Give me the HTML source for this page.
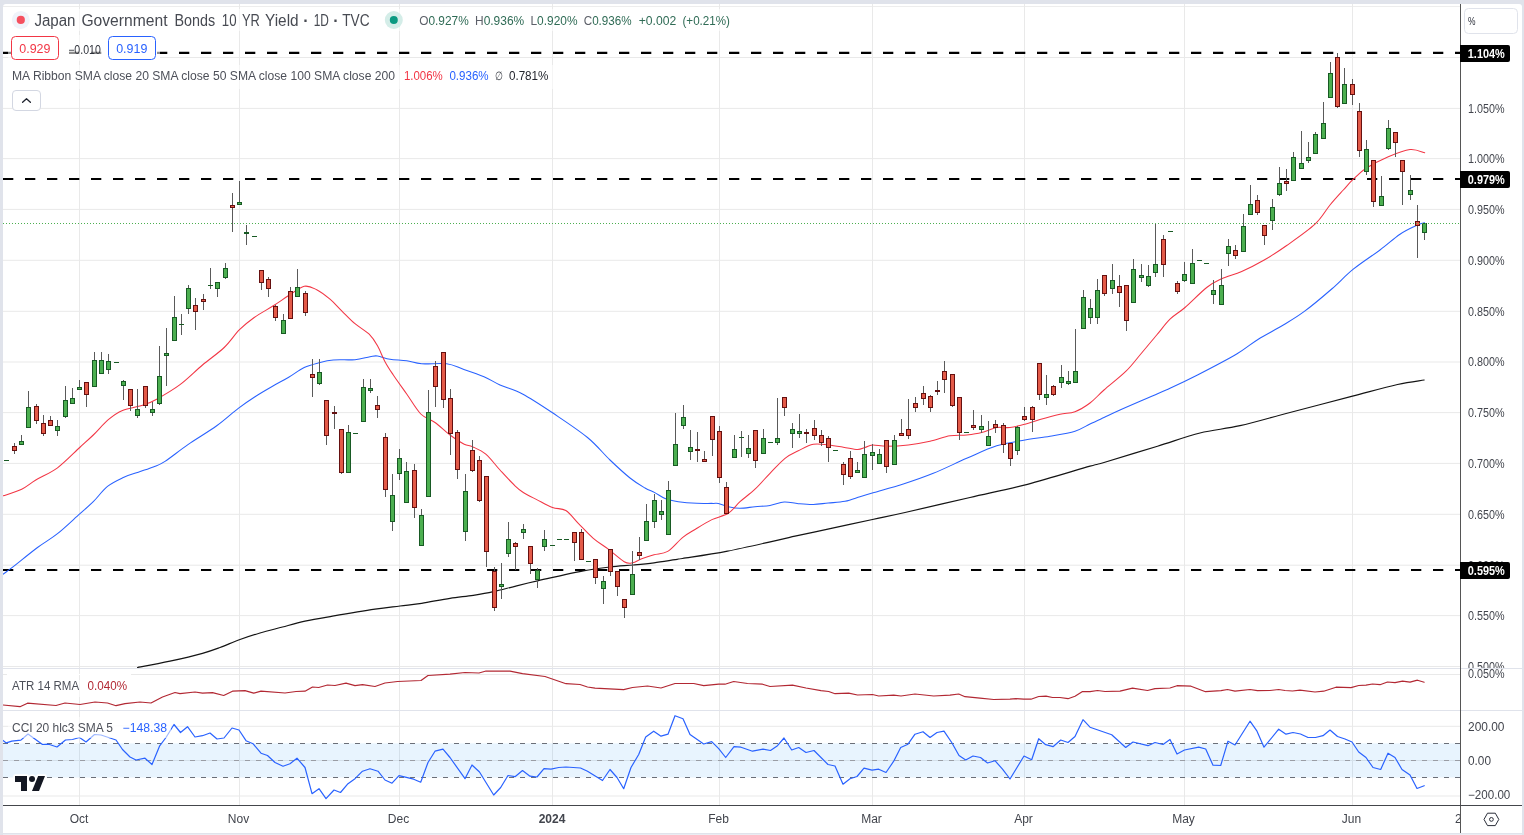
<!DOCTYPE html>
<html lang="en"><head><meta charset="utf-8"><title>Japan Government Bonds 10 YR Yield</title>
<style>
html,body{margin:0;padding:0;background:#e0e3eb;}
body{width:1524px;height:835px;overflow:hidden;font-family:"Liberation Sans", sans-serif;}
svg{display:block;font-family:"Liberation Sans", sans-serif;}
text{white-space:pre;}
</style></head><body>
<svg width="1524" height="835" viewBox="0 0 1524 835">
<rect x="0" y="0" width="1524" height="835" fill="#e0e3eb"/>
<path d="M3,833 V7 a3,3 0 0 1 3,-3 H1519 a3,3 0 0 1 3,3 V833 Z" fill="#ffffff"/>
<defs>
<clipPath id="cpMain"><rect x="3" y="4" width="1457" height="664"/></clipPath>
<clipPath id="cpAxisMain"><rect x="1461" y="4" width="61" height="664"/></clipPath>
<clipPath id="cpAtr"><rect x="3" y="669" width="1457" height="41"/></clipPath>
<clipPath id="cpCci"><rect x="3" y="711" width="1457" height="94"/></clipPath>
<clipPath id="cpT"><rect x="3" y="806" width="1457" height="27"/></clipPath>
</defs>
<rect x="3" y="6" width="1457" height="1" fill="#ededed"/>
<rect x="79.0" y="4" width="1" height="801" fill="#e9e9e9"/>
<rect x="239.0" y="4" width="1" height="801" fill="#e9e9e9"/>
<rect x="399.0" y="4" width="1" height="801" fill="#e9e9e9"/>
<rect x="552.0" y="4" width="1" height="801" fill="#e9e9e9"/>
<rect x="719.0" y="4" width="1" height="801" fill="#e9e9e9"/>
<rect x="872.0" y="4" width="1" height="801" fill="#e9e9e9"/>
<rect x="1024.0" y="4" width="1" height="801" fill="#e9e9e9"/>
<rect x="1184.0" y="4" width="1" height="801" fill="#e9e9e9"/>
<rect x="1352.0" y="4" width="1" height="801" fill="#e9e9e9"/>
<rect x="3" y="57.0" width="1457" height="1" fill="#e9e9e9"/>
<rect x="3" y="107.9" width="1457" height="1" fill="#e9e9e9"/>
<rect x="3" y="158.1" width="1457" height="1" fill="#e9e9e9"/>
<rect x="3" y="208.9" width="1457" height="1" fill="#e9e9e9"/>
<rect x="3" y="259.8" width="1457" height="1" fill="#e9e9e9"/>
<rect x="3" y="310.8" width="1457" height="1" fill="#e9e9e9"/>
<rect x="3" y="361.5" width="1457" height="1" fill="#e9e9e9"/>
<rect x="3" y="412.1" width="1457" height="1" fill="#e9e9e9"/>
<rect x="3" y="462.9" width="1457" height="1" fill="#e9e9e9"/>
<rect x="3" y="513.8" width="1457" height="1" fill="#e9e9e9"/>
<rect x="3" y="564.7" width="1457" height="1" fill="#e9e9e9"/>
<rect x="3" y="615.1" width="1457" height="1" fill="#e9e9e9"/>
<rect x="3" y="666.0" width="1457" height="1" fill="#e9e9e9"/>
<rect x="3" y="674" width="1457" height="1" fill="#e9e9e9"/>
<rect x="3" y="725.8" width="1457" height="1" fill="#e9e9e9"/>
<rect x="3" y="760.0" width="1457" height="1" fill="#e9e9e9"/>
<rect x="3" y="795.5" width="1457" height="1" fill="#e9e9e9"/>
<rect x="7" y="674" width="124" height="1" fill="#fff"/>
<rect x="12" y="725.8" width="159" height="1" fill="#fff"/>
<rect x="11" y="57" width="149" height="1" fill="#fff"/>
<rect x="3" y="668" width="1519" height="1" fill="#e0e3eb"/>
<rect x="3" y="710" width="1519" height="1" fill="#e0e3eb"/>
<g clip-path="url(#cpCci)">
<rect x="3" y="743.4" width="1457" height="34.1" fill="#2196f3" fill-opacity="0.1"/>
<line x1="3" y1="743.5" x2="1460" y2="743.5" stroke="#6b6f78" stroke-width="1" stroke-dasharray="5 6"/>
<line x1="3" y1="760.5" x2="1460" y2="760.5" stroke="#9a9da4" stroke-width="1" stroke-dasharray="5 6"/>
<line x1="3" y1="777.5" x2="1460" y2="777.5" stroke="#6b6f78" stroke-width="1" stroke-dasharray="5 6"/>
<path d="M3.0,740.5 L6.3,742.9 L11.8,741.1 L20.9,740.1 L28.0,734.0 L42.5,744.5 L48.7,744.2 L57.0,747.0 L65.5,740.0 L72.5,739.5 L79.5,737.5 L86.0,742.0 L94.5,734.5 L101.0,735.0 L116.0,740.0 L122.5,749.5 L130.0,757.0 L136.0,760.0 L145.0,758.2 L152.0,764.5 L159.5,746.2 L166.0,737.5 L174.0,724.5 L180.5,732.5 L187.5,726.7 L195.0,737.0 L202.5,735.7 L210.0,733.0 L217.0,739.0 L224.0,738.0 L232.0,728.0 L239.0,730.0 L246.0,740.7 L253.0,743.7 L261.0,753.2 L267.5,755.5 L275.0,762.5 L283.0,766.2 L290.0,763.7 L297.0,758.2 L305.0,767.5 L312.0,793.7 L319.0,788.7 L326.0,798.7 L334.0,790.0 L340.5,792.5 L348.0,783.7 L355.0,778.7 L362.5,771.2 L370.0,768.7 L378.0,771.2 L385.0,780.0 L392.0,783.2 L399.0,775.7 L413.7,779.2 L420.7,782.2 L428.0,762.5 L435.0,751.2 L443.0,749.2 L450.0,757.5 L465.0,778.7 L472.0,765.0 L479.5,772.0 L493.7,795.0 L500.7,787.5 L508.0,775.5 L515.0,776.7 L522.5,770.5 L530.0,776.2 L537.0,777.0 L544.0,768.7 L551.0,769.2 L558.7,767.5 L566.0,767.0 L580.5,768.0 L587.5,771.2 L602.5,780.5 L610.0,769.5 L617.0,777.5 L623.7,788.7 L631.0,767.5 L638.7,754.5 L645.7,737.0 L653.7,731.2 L661.0,736.2 L668.0,734.2 L675.0,715.7 L683.0,718.7 L690.0,734.5 L703.7,744.0 L711.7,741.7 L718.7,748.7 L725.7,757.5 L734.0,746.7 L741.0,747.2 L752.5,751.2 L763.0,749.2 L770.5,750.5 L777.5,745.7 L784.0,738.0 L791.7,750.0 L798.7,747.5 L806.0,752.5 L814.0,750.5 L828.0,764.5 L835.0,766.0 L843.0,784.2 L850.0,778.7 L857.0,776.5 L864.0,768.2 L872.0,770.2 L878.7,769.2 L886.0,772.5 L893.7,761.2 L900.7,747.5 L908.0,744.2 L915.0,734.2 L923.0,731.7 L930.0,737.5 L937.0,732.5 L944.0,731.2 L951.7,742.5 L959.0,755.5 L965.7,760.0 L973.0,756.0 L980.5,757.5 L987.5,763.0 L995.0,760.7 L1002.5,769.2 L1010.0,779.0 L1024.0,756.0 L1031.7,759.7 L1038.7,738.7 L1045.7,744.7 L1053.0,746.7 L1060.7,740.0 L1068.0,742.5 L1075.0,736.5 L1083.0,719.7 L1090.0,727.2 L1111.7,734.7 L1125.7,747.5 L1133.0,742.0 L1148.0,745.7 L1155.0,742.5 L1163.0,744.5 L1170.0,739.5 L1177.0,754.0 L1184.5,750.0 L1198.7,747.2 L1205.7,749.0 L1213.0,765.2 L1220.7,765.5 L1228.0,741.2 L1235.0,745.0 L1250.0,721.2 L1257.0,731.2 L1264.0,747.2 L1278.7,729.2 L1286.0,734.2 L1293.0,732.5 L1300.5,734.0 L1308.0,737.5 L1315.5,737.5 L1323.0,735.7 L1330.0,730.0 L1337.5,736.5 L1345.0,739.0 L1352.0,742.0 L1358.7,752.0 L1366.0,757.5 L1373.0,767.5 L1380.7,769.5 L1388.0,753.2 L1395.0,757.5 L1402.0,769.5 L1410.0,775.0 L1417.0,788.5 L1424.2,785.7" fill="none" stroke="#2962ff" stroke-width="1.2" stroke-linejoin="round" stroke-linecap="round" />
</g>
<g clip-path="url(#cpAtr)">
<path d="M3.0,705.0 L20.0,706.7 L27.5,703.2 L56.0,705.5 L65.0,703.0 L80.0,704.5 L95.0,702.0 L107.5,703.0 L116.0,705.7 L125.0,703.7 L140.0,702.0 L151.0,703.0 L162.5,697.0 L175.0,692.5 L180.0,693.7 L195.0,692.0 L202.5,693.2 L212.5,692.7 L223.7,695.5 L232.5,691.2 L245.0,690.7 L253.7,693.2 L261.0,691.2 L285.0,693.0 L296.0,691.5 L305.0,691.2 L312.5,687.0 L318.7,687.5 L327.5,685.0 L335.0,685.5 L346.0,683.2 L355.0,685.7 L362.5,684.7 L375.0,686.5 L385.0,683.0 L397.5,681.5 L421.0,680.5 L428.0,675.5 L450.0,674.2 L465.0,672.5 L479.0,673.0 L486.0,671.0 L500.0,671.2 L510.0,671.2 L522.5,673.7 L545.0,676.5 L566.0,683.7 L580.0,684.5 L587.5,687.0 L595.0,688.2 L623.7,689.7 L632.5,687.5 L647.5,686.0 L661.0,688.0 L675.0,683.5 L693.7,683.5 L703.7,685.7 L718.7,684.2 L725.0,684.2 L733.7,681.5 L747.5,683.5 L762.5,684.2 L770.0,686.5 L792.5,685.2 L806.0,688.0 L821.0,690.7 L828.7,691.5 L835.0,693.7 L848.7,693.2 L857.5,695.0 L872.5,694.5 L878.7,696.0 L893.7,695.2 L901.0,696.0 L915.0,694.0 L933.7,696.0 L950.0,695.2 L958.7,694.0 L965.0,696.7 L980.0,698.2 L993.7,699.5 L1010.0,699.2 L1016.0,698.7 L1023.7,699.2 L1031.0,699.2 L1038.7,696.5 L1046.0,696.2 L1052.5,697.5 L1060.0,697.5 L1068.0,698.7 L1075.0,696.2 L1082.5,691.5 L1090.0,691.7 L1097.5,690.5 L1105.0,691.5 L1120.0,691.2 L1132.5,688.2 L1147.5,690.5 L1155.0,688.7 L1170.0,688.0 L1177.0,685.7 L1191.0,686.2 L1205.5,691.7 L1221.0,690.7 L1227.5,689.5 L1235.0,691.2 L1250.0,689.5 L1257.5,690.7 L1270.0,690.5 L1278.7,689.5 L1285.0,690.5 L1292.5,691.0 L1300.0,690.2 L1315.0,692.0 L1323.7,691.2 L1336.0,687.2 L1351.0,687.7 L1358.7,685.5 L1366.0,685.2 L1372.5,684.0 L1380.0,684.7 L1387.5,682.0 L1395.0,682.7 L1402.5,681.2 L1410.0,682.2 L1417.5,680.2 L1424.2,682.2" fill="none" stroke="#b22833" stroke-width="1.2" stroke-linejoin="round" stroke-linecap="round" />
</g>
<g clip-path="url(#cpMain)">
<line x1="3" y1="52.9" x2="1460" y2="52.9" stroke="#000" stroke-width="2.15" stroke-dasharray="10.3 11.7"/>
<line x1="3" y1="179" x2="1460" y2="179" stroke="#000" stroke-width="2.15" stroke-dasharray="10.3 11.7"/>
<line x1="3" y1="570" x2="1460" y2="570" stroke="#000" stroke-width="2.15" stroke-dasharray="10.3 11.7"/>
<path d="M137.5,667.5 C142.9,666.5 159.2,663.6 170.0,661.2 C180.8,658.8 194.2,655.6 202.5,653.3 C210.8,651.0 213.8,649.8 220.0,647.5 C226.2,645.2 233.3,641.9 240.0,639.5 C246.7,637.1 252.9,635.1 260.0,633.0 C267.1,630.9 275.0,629.0 282.5,627.0 C290.0,625.0 296.7,623.0 305.0,621.2 C313.3,619.4 320.8,618.2 332.5,616.2 C344.2,614.2 363.8,610.9 375.0,609.2 C386.2,607.5 392.2,607.0 400.0,606.0 C407.8,605.0 413.4,604.6 421.7,603.3 C430.0,602.0 441.4,599.6 450.0,598.3 C458.6,597.0 466.1,596.4 473.3,595.3 C480.5,594.2 486.1,593.3 493.3,591.7 C500.5,590.1 509.3,587.6 516.7,585.8 C524.1,584.0 530.3,582.5 537.5,580.8 C544.7,579.1 552.4,577.5 560.0,575.8 C567.6,574.1 575.0,572.3 583.3,570.8 C591.6,569.3 601.7,568.0 610.0,567.0 C618.3,566.0 626.0,565.7 633.3,565.0 C640.6,564.3 647.0,563.7 654.0,562.8 C661.0,561.9 670.5,560.3 675.3,559.6 C680.0,558.9 673.8,559.9 682.5,558.5 C691.2,557.1 708.8,554.9 727.5,551.2 C746.2,547.5 778.5,539.9 795.0,536.2 C811.5,532.6 813.8,532.1 826.7,529.3 C839.6,526.5 859.5,522.3 872.5,519.5 C885.5,516.7 888.8,516.2 905.0,512.5 C921.2,508.8 949.6,502.2 970.0,497.5 C990.4,492.8 1007.5,489.5 1027.5,484.3 C1047.5,479.1 1077.2,469.8 1090.0,466.2 C1102.8,462.6 1092.8,465.8 1104.0,462.5 C1115.2,459.2 1141.5,451.1 1157.5,446.2 C1173.5,441.3 1186.2,436.4 1200.0,433.0 C1213.8,429.6 1225.0,429.1 1240.0,425.7 C1255.0,422.3 1271.2,417.4 1290.0,412.5 C1308.8,407.6 1334.6,400.9 1352.5,396.2 C1370.4,391.5 1385.5,387.2 1397.5,384.5 C1409.5,381.8 1419.8,380.8 1424.2,380.0" fill="none" stroke="#141414" stroke-width="1.2" stroke-linejoin="round" stroke-linecap="round"/>
<path d="M3.0,574.2 C4.2,573.4 4.2,573.7 10.0,569.2 C15.8,564.8 29.6,553.4 37.5,547.5 C45.4,541.6 50.4,539.3 57.5,533.7 C64.6,528.1 74.0,519.0 80.0,513.7 C86.0,508.4 88.7,506.2 93.3,501.7 C97.9,497.1 102.5,490.4 107.5,486.4 C112.5,482.4 118.2,479.9 123.3,477.5 C128.4,475.1 133.3,473.9 138.3,472.2 C143.3,470.4 148.9,468.8 153.3,467.0 C157.8,465.2 159.2,465.2 165.0,461.4 C170.8,457.6 179.7,450.3 188.3,444.4 C196.9,438.5 208.4,431.8 216.7,425.8 C225.0,419.8 231.9,413.2 238.3,408.3 C244.7,403.4 249.4,400.3 255.0,396.7 C260.6,393.1 266.1,389.9 271.7,386.7 C277.2,383.5 282.9,380.7 288.3,377.5 C293.7,374.3 298.9,370.0 304.2,367.5 C309.5,365.0 315.1,363.8 320.0,362.5 C324.9,361.2 327.5,360.5 333.3,360.0 C339.1,359.5 348.9,360.2 355.0,359.7 C361.1,359.1 366.2,357.3 370.0,356.7 C373.8,356.1 374.2,355.6 377.5,356.0 C380.8,356.4 385.1,358.4 390.0,359.2 C394.9,360.0 401.4,360.0 406.7,360.8 C412.0,361.6 415.0,363.3 421.7,363.8 C428.4,364.3 439.8,362.9 446.7,363.8 C453.6,364.7 457.1,367.1 463.3,369.2 C469.5,371.3 477.9,374.1 484.0,376.7 C490.1,379.3 493.6,382.1 500.0,385.0 C506.4,387.9 513.8,389.4 522.5,394.0 C531.2,398.6 541.7,405.6 552.5,412.8 C563.3,420.1 577.9,429.6 587.5,437.5 C597.1,445.4 602.9,453.2 610.0,460.0 C617.1,466.8 624.2,473.3 630.0,478.0 C635.8,482.7 640.9,485.6 645.0,488.0 C649.1,490.4 651.3,490.8 654.8,492.6 C658.2,494.4 661.8,497.3 665.7,498.8 C669.6,500.3 673.1,500.9 678.3,501.7 C683.5,502.4 690.9,503.0 696.7,503.3 C702.5,503.6 709.7,503.3 713.3,503.4 C716.9,503.4 715.9,503.1 718.4,503.6 C720.9,504.2 724.7,505.9 728.3,506.7 C731.9,507.5 735.5,508.3 740.0,508.3 C744.5,508.3 750.0,507.2 755.0,506.7 C760.0,506.2 765.1,506.3 770.0,505.5 C774.9,504.7 779.5,502.3 784.2,502.0 C788.9,501.7 793.4,503.3 798.3,503.7 C803.1,504.1 808.3,504.6 813.3,504.5 C818.3,504.4 823.0,503.5 828.3,503.0 C833.6,502.5 839.7,502.4 845.0,501.3 C850.3,500.2 855.2,498.2 860.0,496.7 C864.8,495.2 866.8,494.6 874.0,492.5 C881.2,490.4 893.4,487.2 903.3,484.0 C913.2,480.8 922.7,477.6 933.3,473.3 C943.9,469.0 956.1,462.9 966.7,458.3 C977.3,453.7 987.0,448.9 996.7,445.8 C1006.4,442.8 1016.1,441.6 1025.0,440.0 C1033.9,438.4 1041.7,437.8 1050.0,436.3 C1058.3,434.8 1068.3,433.2 1075.0,431.2 C1081.7,429.1 1085.2,426.3 1090.0,424.0 C1094.8,421.7 1099.0,419.8 1104.0,417.5 C1109.0,415.2 1109.0,414.9 1120.0,410.0 C1131.0,405.1 1157.1,394.0 1170.0,388.2 C1182.9,382.4 1186.4,380.7 1197.5,375.0 C1208.6,369.3 1226.6,360.0 1236.7,354.0 C1246.8,348.0 1250.5,344.0 1258.3,339.2 C1266.1,334.4 1275.7,329.6 1283.3,325.0 C1290.9,320.4 1295.9,317.7 1304.0,311.7 C1312.1,305.7 1323.5,296.1 1331.7,289.0 C1339.9,281.9 1345.2,275.7 1353.3,269.2 C1361.3,262.7 1372.2,255.8 1380.0,250.0 C1387.8,244.2 1393.8,238.4 1400.0,234.2 C1406.2,230.0 1413.4,226.9 1417.5,225.0 C1421.6,223.1 1423.3,223.1 1424.5,222.7" fill="none" stroke="#2962ff" stroke-width="1.05" stroke-linejoin="round" stroke-linecap="round"/>
<path d="M3.3,495.8 C6.4,494.7 16.3,491.8 21.7,489.2 C27.1,486.6 29.8,483.6 35.8,480.0 C41.8,476.4 50.2,473.2 57.5,467.8 C64.8,462.4 73.7,453.0 79.7,447.5 C85.7,442.0 88.5,439.6 93.3,435.0 C98.1,430.4 103.4,423.8 108.3,419.7 C113.2,415.6 116.7,412.9 122.5,410.5 C128.3,408.1 137.6,406.9 143.3,405.0 C149.0,403.1 150.6,402.6 156.7,399.2 C162.8,395.8 172.4,390.4 180.0,384.7 C187.6,379.0 195.1,371.2 202.5,365.0 C209.9,358.8 218.0,353.4 224.2,347.5 C230.4,341.6 234.5,334.7 239.5,329.7 C244.5,324.7 248.6,321.5 254.2,317.5 C259.8,313.5 267.6,309.4 273.3,305.8 C279.0,302.2 283.2,299.1 288.3,295.8 C293.4,292.6 299.5,287.3 304.2,286.3 C308.9,285.3 312.4,287.6 316.7,289.7 C321.0,291.8 325.8,295.7 330.0,299.2 C334.2,302.7 337.5,306.7 341.7,310.8 C345.9,314.9 350.4,319.8 355.0,323.7 C359.6,327.6 365.4,330.5 369.2,334.2 C372.9,337.9 374.9,341.2 377.5,345.8 C380.1,350.4 382.4,356.8 385.0,361.7 C387.6,366.6 389.7,369.6 393.3,375.0 C396.9,380.4 402.1,387.5 406.7,394.0 C411.3,400.5 416.1,409.2 420.8,414.0 C425.5,418.8 430.1,419.0 435.0,422.5 C439.9,426.0 445.1,431.4 450.0,435.0 C454.9,438.6 460.4,442.2 464.2,444.2 C467.9,446.1 468.9,445.0 472.5,446.7 C476.1,448.4 481.2,450.3 485.8,454.2 C490.4,458.1 495.1,464.7 500.0,470.0 C504.9,475.3 511.1,482.1 515.0,485.8 C518.9,489.6 519.7,490.2 523.3,492.5 C526.9,494.8 531.8,497.1 536.7,499.6 C541.6,502.1 547.6,505.7 552.5,507.5 C557.4,509.3 561.5,507.9 565.8,510.5 C570.1,513.1 573.7,518.7 578.3,523.3 C582.9,527.9 588.3,534.0 593.3,538.3 C598.3,542.6 603.1,545.3 608.3,549.2 C613.4,553.1 620.2,559.4 624.2,561.7 C628.2,564.0 629.6,563.3 632.5,562.8 C635.4,562.3 638.1,560.1 641.7,558.7 C645.3,557.4 649.7,555.9 654.0,554.7 C658.3,553.5 662.9,554.3 667.7,551.4 C672.5,548.5 678.1,541.0 682.8,537.3 C687.5,533.6 690.9,532.0 695.8,529.0 C700.6,526.0 706.5,522.2 711.9,519.6 C717.3,517.0 723.6,516.3 728.3,513.3 C733.0,510.3 735.5,505.7 740.0,501.7 C744.5,497.7 750.0,493.9 755.0,489.2 C760.0,484.5 765.0,478.4 770.0,473.3 C775.0,468.2 780.3,462.1 785.0,458.3 C789.7,454.6 793.6,453.1 798.3,450.8 C803.0,448.5 808.3,445.3 813.3,444.3 C818.3,443.3 823.3,444.5 828.3,445.0 C833.3,445.5 838.4,446.4 843.3,447.2 C848.2,447.9 853.9,449.4 857.5,449.5 C861.1,449.6 862.5,448.2 865.0,447.5 C867.5,446.8 868.9,445.2 872.5,445.0 C876.1,444.8 880.7,446.3 886.7,446.3 C892.7,446.3 901.1,445.9 908.3,445.0 C915.5,444.1 923.0,442.7 930.0,441.2 C937.0,439.7 943.9,436.8 950.0,435.8 C956.1,434.8 961.4,435.6 966.7,435.0 C972.0,434.4 976.7,433.8 981.7,432.5 C986.7,431.2 992.0,428.3 996.7,427.5 C1001.4,426.7 1005.3,428.1 1010.0,427.5 C1014.7,426.9 1020.0,425.5 1025.0,424.2 C1030.0,422.9 1034.2,421.2 1040.0,419.5 C1045.8,417.8 1054.2,415.5 1060.0,414.2 C1065.8,412.9 1070.0,413.6 1075.0,411.7 C1080.0,409.8 1085.2,406.6 1090.0,403.0 C1094.8,399.4 1098.0,395.3 1104.0,390.0 C1110.0,384.7 1119.9,377.2 1126.0,371.2 C1132.1,365.2 1135.7,360.0 1140.8,354.0 C1145.9,348.0 1151.8,340.8 1156.7,335.0 C1161.6,329.2 1165.3,323.8 1170.0,319.2 C1174.7,314.6 1178.9,312.8 1185.0,307.5 C1191.1,302.2 1200.6,292.3 1206.7,287.5 C1212.8,282.7 1215.9,281.5 1221.7,278.8 C1227.5,276.1 1234.6,274.6 1241.7,271.5 C1248.8,268.4 1256.7,264.3 1264.2,260.0 C1271.7,255.7 1278.2,251.5 1286.7,245.5 C1295.2,239.5 1307.8,230.9 1315.0,224.2 C1322.2,217.4 1325.3,210.7 1330.0,205.0 C1334.7,199.3 1339.4,194.3 1343.3,190.0 C1347.2,185.7 1349.5,182.8 1353.3,179.2 C1357.1,175.6 1360.2,172.1 1366.0,168.3 C1371.8,164.6 1381.0,159.8 1388.3,156.7 C1395.6,153.6 1403.9,150.2 1410.0,149.5 C1416.1,148.8 1422.2,152.2 1424.7,152.8" fill="none" stroke="#f23645" stroke-width="1.05" stroke-linejoin="round" stroke-linecap="round"/>
<rect x="4.0" y="460" width="5" height="1.0" fill="#185a24"/>
<rect x="14.0" y="443" width="1" height="11" fill="#5a5a5a"/>
<rect x="12.0" y="446" width="5" height="5" fill="#651010"/>
<rect x="13.0" y="447" width="3" height="3" fill="#e35a48"/>
<rect x="21.0" y="435" width="1" height="10" fill="#5a5a5a"/>
<rect x="19.0" y="441" width="5" height="4" fill="#185a24"/>
<rect x="20.0" y="442" width="3" height="2" fill="#4caf50"/>
<rect x="28.0" y="391" width="1" height="37" fill="#5a5a5a"/>
<rect x="26.0" y="407" width="5" height="21" fill="#185a24"/>
<rect x="27.0" y="408" width="3" height="19" fill="#4caf50"/>
<rect x="36.0" y="404" width="1" height="20" fill="#5a5a5a"/>
<rect x="34.0" y="406" width="5" height="15" fill="#651010"/>
<rect x="35.0" y="407" width="3" height="13" fill="#e35a48"/>
<rect x="43.0" y="415" width="1" height="21" fill="#5a5a5a"/>
<rect x="41.0" y="423" width="5" height="11" fill="#651010"/>
<rect x="42.0" y="424" width="3" height="9" fill="#e35a48"/>
<rect x="50.0" y="416" width="1" height="10" fill="#5a5a5a"/>
<rect x="48.0" y="420" width="5" height="6" fill="#651010"/>
<rect x="49.0" y="421" width="3" height="4" fill="#e35a48"/>
<rect x="57.0" y="420" width="1" height="16" fill="#5a5a5a"/>
<rect x="55.0" y="426" width="5" height="5" fill="#185a24"/>
<rect x="56.0" y="427" width="3" height="3" fill="#4caf50"/>
<rect x="65.0" y="386" width="1" height="32" fill="#5a5a5a"/>
<rect x="63.0" y="400" width="5" height="17" fill="#185a24"/>
<rect x="64.0" y="401" width="3" height="15" fill="#4caf50"/>
<rect x="72.0" y="388" width="1" height="16" fill="#5a5a5a"/>
<rect x="70.0" y="398" width="5" height="6" fill="#185a24"/>
<rect x="71.0" y="399" width="3" height="4" fill="#4caf50"/>
<rect x="79.0" y="380" width="1" height="10" fill="#5a5a5a"/>
<rect x="77.0" y="387" width="5" height="3" fill="#185a24"/>
<rect x="78.0" y="388" width="3" height="1" fill="#4caf50"/>
<rect x="86.0" y="382" width="1" height="25" fill="#5a5a5a"/>
<rect x="84.0" y="382" width="5" height="13" fill="#651010"/>
<rect x="85.0" y="383" width="3" height="11" fill="#e35a48"/>
<rect x="94.0" y="352" width="1" height="35" fill="#5a5a5a"/>
<rect x="92.0" y="360" width="5" height="27" fill="#185a24"/>
<rect x="93.0" y="361" width="3" height="25" fill="#4caf50"/>
<rect x="101.0" y="352" width="1" height="22" fill="#5a5a5a"/>
<rect x="99.0" y="360" width="5" height="14" fill="#185a24"/>
<rect x="100.0" y="361" width="3" height="12" fill="#4caf50"/>
<rect x="108.0" y="354" width="1" height="20" fill="#5a5a5a"/>
<rect x="106.0" y="361" width="5" height="9" fill="#185a24"/>
<rect x="107.0" y="362" width="3" height="7" fill="#4caf50"/>
<rect x="114.0" y="362" width="5" height="1.0" fill="#185a24"/>
<rect x="123.0" y="380" width="1" height="20" fill="#5a5a5a"/>
<rect x="121.0" y="381" width="5" height="5" fill="#185a24"/>
<rect x="122.0" y="382" width="3" height="3" fill="#4caf50"/>
<rect x="130.0" y="389" width="1" height="22" fill="#5a5a5a"/>
<rect x="128.0" y="389" width="5" height="17" fill="#651010"/>
<rect x="129.0" y="390" width="3" height="15" fill="#e35a48"/>
<rect x="137.0" y="389" width="1" height="29" fill="#5a5a5a"/>
<rect x="135.0" y="409" width="5" height="7" fill="#185a24"/>
<rect x="136.0" y="410" width="3" height="5" fill="#4caf50"/>
<rect x="145.0" y="386" width="1" height="22" fill="#5a5a5a"/>
<rect x="143.0" y="386" width="5" height="20" fill="#651010"/>
<rect x="144.0" y="387" width="3" height="18" fill="#e35a48"/>
<rect x="152.0" y="402" width="1" height="14" fill="#5a5a5a"/>
<rect x="150.0" y="409" width="5" height="4" fill="#185a24"/>
<rect x="151.0" y="410" width="3" height="2" fill="#4caf50"/>
<rect x="159.0" y="346" width="1" height="59" fill="#5a5a5a"/>
<rect x="157.0" y="376" width="5" height="28" fill="#185a24"/>
<rect x="158.0" y="377" width="3" height="26" fill="#4caf50"/>
<rect x="166.0" y="328" width="1" height="58" fill="#5a5a5a"/>
<rect x="164.0" y="353" width="5" height="3" fill="#185a24"/>
<rect x="165.0" y="354" width="3" height="1" fill="#4caf50"/>
<rect x="174.0" y="296" width="1" height="45" fill="#5a5a5a"/>
<rect x="172.0" y="317" width="5" height="24" fill="#185a24"/>
<rect x="173.0" y="318" width="3" height="22" fill="#4caf50"/>
<rect x="181.0" y="314" width="1" height="21" fill="#5a5a5a"/>
<rect x="179.0" y="324" width="5" height="1.0" fill="#185a24"/>
<rect x="188.0" y="285" width="1" height="29" fill="#5a5a5a"/>
<rect x="186.0" y="288" width="5" height="21" fill="#185a24"/>
<rect x="187.0" y="289" width="3" height="19" fill="#4caf50"/>
<rect x="195.0" y="298" width="1" height="32" fill="#5a5a5a"/>
<rect x="193.0" y="305" width="5" height="7" fill="#651010"/>
<rect x="194.0" y="306" width="3" height="5" fill="#e35a48"/>
<rect x="203.0" y="294" width="1" height="16" fill="#5a5a5a"/>
<rect x="201.0" y="299" width="5" height="3" fill="#651010"/>
<rect x="202.0" y="300" width="3" height="1" fill="#e35a48"/>
<rect x="210.0" y="268" width="1" height="21" fill="#5a5a5a"/>
<rect x="208.0" y="285" width="5" height="1.0" fill="#185a24"/>
<rect x="217.0" y="282" width="1" height="15" fill="#5a5a5a"/>
<rect x="215.0" y="282" width="5" height="7" fill="#185a24"/>
<rect x="216.0" y="283" width="3" height="5" fill="#4caf50"/>
<rect x="225.0" y="263" width="1" height="16" fill="#5a5a5a"/>
<rect x="223.0" y="268" width="5" height="10" fill="#185a24"/>
<rect x="224.0" y="269" width="3" height="8" fill="#4caf50"/>
<rect x="232.0" y="193" width="1" height="39" fill="#5a5a5a"/>
<rect x="230.0" y="205" width="5" height="3" fill="#651010"/>
<rect x="231.0" y="206" width="3" height="1" fill="#e35a48"/>
<rect x="239.0" y="181" width="1" height="24" fill="#5a5a5a"/>
<rect x="237.0" y="202" width="5" height="3" fill="#185a24"/>
<rect x="238.0" y="203" width="3" height="1" fill="#4caf50"/>
<rect x="246.0" y="225" width="1" height="20" fill="#5a5a5a"/>
<rect x="244.0" y="232" width="5" height="2.0" fill="#185a24"/>
<rect x="252.0" y="236" width="5" height="1.0" fill="#185a24"/>
<rect x="261.0" y="270" width="1" height="20" fill="#5a5a5a"/>
<rect x="259.0" y="270" width="5" height="13" fill="#651010"/>
<rect x="260.0" y="271" width="3" height="11" fill="#e35a48"/>
<rect x="268.0" y="277" width="1" height="20" fill="#5a5a5a"/>
<rect x="266.0" y="279" width="5" height="10" fill="#651010"/>
<rect x="267.0" y="280" width="3" height="8" fill="#e35a48"/>
<rect x="275.0" y="305" width="1" height="16" fill="#5a5a5a"/>
<rect x="273.0" y="306" width="5" height="12" fill="#651010"/>
<rect x="274.0" y="307" width="3" height="10" fill="#e35a48"/>
<rect x="283.0" y="314" width="1" height="20" fill="#5a5a5a"/>
<rect x="281.0" y="320" width="5" height="14" fill="#185a24"/>
<rect x="282.0" y="321" width="3" height="12" fill="#4caf50"/>
<rect x="290.0" y="287" width="1" height="32" fill="#5a5a5a"/>
<rect x="288.0" y="291" width="5" height="28" fill="#651010"/>
<rect x="289.0" y="292" width="3" height="26" fill="#e35a48"/>
<rect x="297.0" y="269" width="1" height="28" fill="#5a5a5a"/>
<rect x="295.0" y="287" width="5" height="10" fill="#185a24"/>
<rect x="296.0" y="288" width="3" height="8" fill="#4caf50"/>
<rect x="305.0" y="291" width="1" height="25" fill="#5a5a5a"/>
<rect x="303.0" y="293" width="5" height="20" fill="#651010"/>
<rect x="304.0" y="294" width="3" height="18" fill="#e35a48"/>
<rect x="312.0" y="359" width="1" height="38" fill="#5a5a5a"/>
<rect x="310.0" y="374" width="5" height="4" fill="#651010"/>
<rect x="311.0" y="375" width="3" height="2" fill="#e35a48"/>
<rect x="319.0" y="359" width="1" height="26" fill="#5a5a5a"/>
<rect x="317.0" y="372" width="5" height="12" fill="#185a24"/>
<rect x="318.0" y="373" width="3" height="10" fill="#4caf50"/>
<rect x="326.0" y="400" width="1" height="45" fill="#5a5a5a"/>
<rect x="324.0" y="400" width="5" height="36" fill="#651010"/>
<rect x="325.0" y="401" width="3" height="34" fill="#e35a48"/>
<rect x="334.0" y="406" width="1" height="23" fill="#5a5a5a"/>
<rect x="332.0" y="412" width="5" height="2.0" fill="#651010"/>
<rect x="341.0" y="429" width="1" height="45" fill="#5a5a5a"/>
<rect x="339.0" y="429" width="5" height="44" fill="#651010"/>
<rect x="340.0" y="430" width="3" height="42" fill="#e35a48"/>
<rect x="348.0" y="425" width="1" height="48" fill="#5a5a5a"/>
<rect x="346.0" y="432" width="5" height="41" fill="#185a24"/>
<rect x="347.0" y="433" width="3" height="39" fill="#4caf50"/>
<rect x="353.0" y="433" width="5" height="1.0" fill="#185a24"/>
<rect x="363.0" y="379" width="1" height="43" fill="#5a5a5a"/>
<rect x="361.0" y="387" width="5" height="35" fill="#185a24"/>
<rect x="362.0" y="388" width="3" height="33" fill="#4caf50"/>
<rect x="370.0" y="379" width="1" height="14" fill="#5a5a5a"/>
<rect x="368.0" y="388" width="5" height="3" fill="#185a24"/>
<rect x="369.0" y="389" width="3" height="1" fill="#4caf50"/>
<rect x="377.0" y="396" width="1" height="22" fill="#5a5a5a"/>
<rect x="375.0" y="405" width="5" height="5" fill="#651010"/>
<rect x="376.0" y="406" width="3" height="3" fill="#e35a48"/>
<rect x="385.0" y="433" width="1" height="64" fill="#5a5a5a"/>
<rect x="383.0" y="437" width="5" height="53" fill="#651010"/>
<rect x="384.0" y="438" width="3" height="51" fill="#e35a48"/>
<rect x="392.0" y="474" width="1" height="57" fill="#5a5a5a"/>
<rect x="390.0" y="495" width="5" height="27" fill="#185a24"/>
<rect x="391.0" y="496" width="3" height="25" fill="#4caf50"/>
<rect x="399.0" y="449" width="1" height="31" fill="#5a5a5a"/>
<rect x="397.0" y="458" width="5" height="16" fill="#185a24"/>
<rect x="398.0" y="459" width="3" height="14" fill="#4caf50"/>
<rect x="406.0" y="462" width="1" height="41" fill="#5a5a5a"/>
<rect x="404.0" y="471" width="5" height="32" fill="#185a24"/>
<rect x="405.0" y="472" width="3" height="30" fill="#4caf50"/>
<rect x="414.0" y="464" width="1" height="54" fill="#5a5a5a"/>
<rect x="412.0" y="470" width="5" height="38" fill="#651010"/>
<rect x="413.0" y="471" width="3" height="36" fill="#e35a48"/>
<rect x="421.0" y="509" width="1" height="37" fill="#5a5a5a"/>
<rect x="419.0" y="515" width="5" height="31" fill="#185a24"/>
<rect x="420.0" y="516" width="3" height="29" fill="#4caf50"/>
<rect x="428.0" y="390" width="1" height="107" fill="#5a5a5a"/>
<rect x="426.0" y="412" width="5" height="85" fill="#185a24"/>
<rect x="427.0" y="413" width="3" height="83" fill="#4caf50"/>
<rect x="435.0" y="361" width="1" height="46" fill="#5a5a5a"/>
<rect x="433.0" y="366" width="5" height="21" fill="#651010"/>
<rect x="434.0" y="367" width="3" height="19" fill="#e35a48"/>
<rect x="443.0" y="352" width="1" height="56" fill="#5a5a5a"/>
<rect x="441.0" y="352" width="5" height="48" fill="#651010"/>
<rect x="442.0" y="353" width="3" height="46" fill="#e35a48"/>
<rect x="450.0" y="389" width="1" height="66" fill="#5a5a5a"/>
<rect x="448.0" y="398" width="5" height="36" fill="#651010"/>
<rect x="449.0" y="399" width="3" height="34" fill="#e35a48"/>
<rect x="457.0" y="430" width="1" height="49" fill="#5a5a5a"/>
<rect x="455.0" y="432" width="5" height="38" fill="#651010"/>
<rect x="456.0" y="433" width="3" height="36" fill="#e35a48"/>
<rect x="465.0" y="474" width="1" height="67" fill="#5a5a5a"/>
<rect x="463.0" y="491" width="5" height="41" fill="#185a24"/>
<rect x="464.0" y="492" width="3" height="39" fill="#4caf50"/>
<rect x="472.0" y="440" width="1" height="32" fill="#5a5a5a"/>
<rect x="470.0" y="450" width="5" height="21" fill="#651010"/>
<rect x="471.0" y="451" width="3" height="19" fill="#e35a48"/>
<rect x="479.0" y="456" width="1" height="46" fill="#5a5a5a"/>
<rect x="477.0" y="460" width="5" height="41" fill="#651010"/>
<rect x="478.0" y="461" width="3" height="39" fill="#e35a48"/>
<rect x="486.0" y="477" width="1" height="90" fill="#5a5a5a"/>
<rect x="484.0" y="476" width="5" height="76" fill="#651010"/>
<rect x="485.0" y="477" width="3" height="74" fill="#e35a48"/>
<rect x="494.0" y="567" width="1" height="44" fill="#5a5a5a"/>
<rect x="492.0" y="571" width="5" height="37" fill="#651010"/>
<rect x="493.0" y="572" width="3" height="35" fill="#e35a48"/>
<rect x="501.0" y="563" width="1" height="36" fill="#5a5a5a"/>
<rect x="499.0" y="584" width="5" height="3" fill="#185a24"/>
<rect x="500.0" y="585" width="3" height="1" fill="#4caf50"/>
<rect x="508.0" y="522" width="1" height="35" fill="#5a5a5a"/>
<rect x="506.0" y="539" width="5" height="15" fill="#185a24"/>
<rect x="507.0" y="540" width="3" height="13" fill="#4caf50"/>
<rect x="515.0" y="542" width="1" height="28" fill="#5a5a5a"/>
<rect x="513.0" y="543" width="5" height="4" fill="#651010"/>
<rect x="514.0" y="544" width="3" height="2" fill="#e35a48"/>
<rect x="523.0" y="524" width="1" height="15" fill="#5a5a5a"/>
<rect x="521.0" y="529" width="5" height="4" fill="#185a24"/>
<rect x="522.0" y="530" width="3" height="2" fill="#4caf50"/>
<rect x="530.0" y="546" width="1" height="28" fill="#5a5a5a"/>
<rect x="528.0" y="546" width="5" height="18" fill="#651010"/>
<rect x="529.0" y="547" width="3" height="16" fill="#e35a48"/>
<rect x="537.0" y="568" width="1" height="20" fill="#5a5a5a"/>
<rect x="535.0" y="570" width="5" height="10" fill="#185a24"/>
<rect x="536.0" y="571" width="3" height="8" fill="#4caf50"/>
<rect x="544.0" y="530" width="1" height="21" fill="#5a5a5a"/>
<rect x="542.0" y="539" width="5" height="8" fill="#185a24"/>
<rect x="543.0" y="540" width="3" height="6" fill="#4caf50"/>
<rect x="550.0" y="545" width="5" height="1.0" fill="#185a24"/>
<rect x="557.0" y="539" width="5" height="1.0" fill="#185a24"/>
<rect x="564.0" y="539" width="5" height="1.0" fill="#185a24"/>
<rect x="574.0" y="532" width="1" height="29" fill="#5a5a5a"/>
<rect x="572.0" y="532" width="5" height="11" fill="#651010"/>
<rect x="573.0" y="533" width="3" height="9" fill="#e35a48"/>
<rect x="581.0" y="529" width="1" height="31" fill="#5a5a5a"/>
<rect x="579.0" y="532" width="5" height="28" fill="#651010"/>
<rect x="580.0" y="533" width="3" height="26" fill="#e35a48"/>
<rect x="586.0" y="561" width="5" height="1.0" fill="#185a24"/>
<rect x="595.0" y="559" width="1" height="25" fill="#5a5a5a"/>
<rect x="593.0" y="559" width="5" height="19" fill="#651010"/>
<rect x="594.0" y="560" width="3" height="17" fill="#e35a48"/>
<rect x="603.0" y="576" width="1" height="28" fill="#5a5a5a"/>
<rect x="601.0" y="581" width="5" height="8" fill="#185a24"/>
<rect x="602.0" y="582" width="3" height="6" fill="#4caf50"/>
<rect x="610.0" y="549" width="1" height="27" fill="#5a5a5a"/>
<rect x="608.0" y="549" width="5" height="23" fill="#651010"/>
<rect x="609.0" y="550" width="3" height="21" fill="#e35a48"/>
<rect x="617.0" y="571" width="1" height="25" fill="#5a5a5a"/>
<rect x="615.0" y="571" width="5" height="16" fill="#651010"/>
<rect x="616.0" y="572" width="3" height="14" fill="#e35a48"/>
<rect x="624.0" y="599" width="1" height="19" fill="#5a5a5a"/>
<rect x="622.0" y="599" width="5" height="9" fill="#651010"/>
<rect x="623.0" y="600" width="3" height="7" fill="#e35a48"/>
<rect x="632.0" y="551" width="1" height="44" fill="#5a5a5a"/>
<rect x="630.0" y="574" width="5" height="21" fill="#185a24"/>
<rect x="631.0" y="575" width="3" height="19" fill="#4caf50"/>
<rect x="639.0" y="537" width="1" height="23" fill="#5a5a5a"/>
<rect x="637.0" y="552" width="5" height="4" fill="#651010"/>
<rect x="638.0" y="553" width="3" height="2" fill="#e35a48"/>
<rect x="646.0" y="504" width="1" height="37" fill="#5a5a5a"/>
<rect x="644.0" y="521" width="5" height="20" fill="#185a24"/>
<rect x="645.0" y="522" width="3" height="18" fill="#4caf50"/>
<rect x="654.0" y="494" width="1" height="34" fill="#5a5a5a"/>
<rect x="652.0" y="500" width="5" height="22" fill="#185a24"/>
<rect x="653.0" y="501" width="3" height="20" fill="#4caf50"/>
<rect x="661.0" y="500" width="1" height="20" fill="#5a5a5a"/>
<rect x="659.0" y="511" width="5" height="4" fill="#185a24"/>
<rect x="660.0" y="512" width="3" height="2" fill="#4caf50"/>
<rect x="668.0" y="481" width="1" height="54" fill="#5a5a5a"/>
<rect x="666.0" y="490" width="5" height="45" fill="#185a24"/>
<rect x="667.0" y="491" width="3" height="43" fill="#4caf50"/>
<rect x="675.0" y="413" width="1" height="53" fill="#5a5a5a"/>
<rect x="673.0" y="444" width="5" height="22" fill="#185a24"/>
<rect x="674.0" y="445" width="3" height="20" fill="#4caf50"/>
<rect x="683.0" y="405" width="1" height="24" fill="#5a5a5a"/>
<rect x="681.0" y="417" width="5" height="9" fill="#185a24"/>
<rect x="682.0" y="418" width="3" height="7" fill="#4caf50"/>
<rect x="690.0" y="430" width="1" height="30" fill="#5a5a5a"/>
<rect x="688.0" y="447" width="5" height="5" fill="#185a24"/>
<rect x="689.0" y="448" width="3" height="3" fill="#4caf50"/>
<rect x="697.0" y="432" width="1" height="30" fill="#5a5a5a"/>
<rect x="695.0" y="449" width="5" height="2.0" fill="#651010"/>
<rect x="704.0" y="451" width="1" height="11" fill="#5a5a5a"/>
<rect x="702.0" y="459" width="5" height="3" fill="#651010"/>
<rect x="703.0" y="460" width="3" height="1" fill="#e35a48"/>
<rect x="712.0" y="416" width="1" height="40" fill="#5a5a5a"/>
<rect x="710.0" y="416" width="5" height="24" fill="#651010"/>
<rect x="711.0" y="417" width="3" height="22" fill="#e35a48"/>
<rect x="719.0" y="426" width="1" height="57" fill="#5a5a5a"/>
<rect x="717.0" y="431" width="5" height="47" fill="#651010"/>
<rect x="718.0" y="432" width="3" height="45" fill="#e35a48"/>
<rect x="726.0" y="482" width="1" height="32" fill="#5a5a5a"/>
<rect x="724.0" y="487" width="5" height="27" fill="#651010"/>
<rect x="725.0" y="488" width="3" height="25" fill="#e35a48"/>
<rect x="734.0" y="435" width="1" height="23" fill="#5a5a5a"/>
<rect x="732.0" y="449" width="5" height="9" fill="#185a24"/>
<rect x="733.0" y="450" width="3" height="7" fill="#4caf50"/>
<rect x="741.0" y="431" width="1" height="26" fill="#5a5a5a"/>
<rect x="739.0" y="437" width="5" height="1.0" fill="#185a24"/>
<rect x="748.0" y="435" width="1" height="23" fill="#5a5a5a"/>
<rect x="746.0" y="448" width="5" height="6" fill="#185a24"/>
<rect x="747.0" y="449" width="3" height="4" fill="#4caf50"/>
<rect x="755.0" y="430" width="1" height="38" fill="#5a5a5a"/>
<rect x="753.0" y="430" width="5" height="31" fill="#651010"/>
<rect x="754.0" y="431" width="3" height="29" fill="#e35a48"/>
<rect x="763.0" y="429" width="1" height="25" fill="#5a5a5a"/>
<rect x="761.0" y="438" width="5" height="16" fill="#185a24"/>
<rect x="762.0" y="439" width="3" height="14" fill="#4caf50"/>
<rect x="768.0" y="442" width="5" height="1.0" fill="#185a24"/>
<rect x="777.0" y="398" width="1" height="47" fill="#5a5a5a"/>
<rect x="775.0" y="438" width="5" height="5" fill="#185a24"/>
<rect x="776.0" y="439" width="3" height="3" fill="#4caf50"/>
<rect x="784.0" y="397" width="1" height="19" fill="#5a5a5a"/>
<rect x="782.0" y="397" width="5" height="11" fill="#651010"/>
<rect x="783.0" y="398" width="3" height="9" fill="#e35a48"/>
<rect x="792.0" y="423" width="1" height="25" fill="#5a5a5a"/>
<rect x="790.0" y="429" width="5" height="5" fill="#185a24"/>
<rect x="791.0" y="430" width="3" height="3" fill="#4caf50"/>
<rect x="799.0" y="414" width="1" height="24" fill="#5a5a5a"/>
<rect x="797.0" y="431" width="5" height="3" fill="#185a24"/>
<rect x="798.0" y="432" width="3" height="1" fill="#4caf50"/>
<rect x="806.0" y="429" width="1" height="14" fill="#5a5a5a"/>
<rect x="804.0" y="432" width="5" height="2.0" fill="#651010"/>
<rect x="814.0" y="420" width="1" height="20" fill="#5a5a5a"/>
<rect x="812.0" y="428" width="5" height="8" fill="#651010"/>
<rect x="813.0" y="429" width="3" height="6" fill="#e35a48"/>
<rect x="821.0" y="430" width="1" height="16" fill="#5a5a5a"/>
<rect x="819.0" y="435" width="5" height="8" fill="#651010"/>
<rect x="820.0" y="436" width="3" height="6" fill="#e35a48"/>
<rect x="828.0" y="436" width="1" height="26" fill="#5a5a5a"/>
<rect x="826.0" y="438" width="5" height="10" fill="#651010"/>
<rect x="827.0" y="439" width="3" height="8" fill="#e35a48"/>
<rect x="833.0" y="450" width="5" height="1.0" fill="#185a24"/>
<rect x="843.0" y="462" width="1" height="23" fill="#5a5a5a"/>
<rect x="841.0" y="464" width="5" height="11" fill="#651010"/>
<rect x="842.0" y="465" width="3" height="9" fill="#e35a48"/>
<rect x="850.0" y="451" width="1" height="28" fill="#5a5a5a"/>
<rect x="848.0" y="458" width="5" height="19" fill="#651010"/>
<rect x="849.0" y="459" width="3" height="17" fill="#e35a48"/>
<rect x="857.0" y="462" width="1" height="11" fill="#5a5a5a"/>
<rect x="855.0" y="470" width="5" height="3" fill="#185a24"/>
<rect x="856.0" y="471" width="3" height="1" fill="#4caf50"/>
<rect x="864.0" y="441" width="1" height="37" fill="#5a5a5a"/>
<rect x="862.0" y="454" width="5" height="24" fill="#185a24"/>
<rect x="863.0" y="455" width="3" height="22" fill="#4caf50"/>
<rect x="872.0" y="444" width="1" height="26" fill="#5a5a5a"/>
<rect x="870.0" y="452" width="5" height="4" fill="#185a24"/>
<rect x="871.0" y="453" width="3" height="2" fill="#4caf50"/>
<rect x="879.0" y="449" width="1" height="15" fill="#5a5a5a"/>
<rect x="877.0" y="454" width="5" height="10" fill="#185a24"/>
<rect x="878.0" y="455" width="3" height="8" fill="#4caf50"/>
<rect x="886.0" y="440" width="1" height="33" fill="#5a5a5a"/>
<rect x="884.0" y="440" width="5" height="27" fill="#651010"/>
<rect x="885.0" y="441" width="3" height="25" fill="#e35a48"/>
<rect x="894.0" y="435" width="1" height="30" fill="#5a5a5a"/>
<rect x="892.0" y="440" width="5" height="25" fill="#185a24"/>
<rect x="893.0" y="441" width="3" height="23" fill="#4caf50"/>
<rect x="901.0" y="419" width="1" height="17" fill="#5a5a5a"/>
<rect x="899.0" y="433" width="5" height="3" fill="#651010"/>
<rect x="900.0" y="434" width="3" height="1" fill="#e35a48"/>
<rect x="908.0" y="399" width="1" height="40" fill="#5a5a5a"/>
<rect x="906.0" y="429" width="5" height="7" fill="#651010"/>
<rect x="907.0" y="430" width="3" height="5" fill="#e35a48"/>
<rect x="915.0" y="397" width="1" height="15" fill="#5a5a5a"/>
<rect x="913.0" y="403" width="5" height="5" fill="#651010"/>
<rect x="914.0" y="404" width="3" height="3" fill="#e35a48"/>
<rect x="923.0" y="386" width="1" height="19" fill="#5a5a5a"/>
<rect x="921.0" y="393" width="5" height="6" fill="#651010"/>
<rect x="922.0" y="394" width="3" height="4" fill="#e35a48"/>
<rect x="930.0" y="395" width="1" height="17" fill="#5a5a5a"/>
<rect x="928.0" y="396" width="5" height="12" fill="#651010"/>
<rect x="929.0" y="397" width="3" height="10" fill="#e35a48"/>
<rect x="937.0" y="381" width="1" height="14" fill="#5a5a5a"/>
<rect x="935.0" y="390" width="5" height="2.0" fill="#651010"/>
<rect x="944.0" y="361" width="1" height="32" fill="#5a5a5a"/>
<rect x="942.0" y="371" width="5" height="9" fill="#651010"/>
<rect x="943.0" y="372" width="3" height="7" fill="#e35a48"/>
<rect x="952.0" y="374" width="1" height="33" fill="#5a5a5a"/>
<rect x="950.0" y="374" width="5" height="32" fill="#651010"/>
<rect x="951.0" y="375" width="3" height="30" fill="#e35a48"/>
<rect x="959.0" y="397" width="1" height="43" fill="#5a5a5a"/>
<rect x="957.0" y="397" width="5" height="36" fill="#651010"/>
<rect x="958.0" y="398" width="3" height="34" fill="#e35a48"/>
<rect x="964.0" y="432" width="5" height="1.0" fill="#185a24"/>
<rect x="973.0" y="410" width="1" height="20" fill="#5a5a5a"/>
<rect x="971.0" y="425" width="5" height="3" fill="#651010"/>
<rect x="972.0" y="426" width="3" height="1" fill="#e35a48"/>
<rect x="981.0" y="415" width="1" height="18" fill="#5a5a5a"/>
<rect x="979.0" y="426" width="5" height="4" fill="#185a24"/>
<rect x="980.0" y="427" width="3" height="2" fill="#4caf50"/>
<rect x="988.0" y="421" width="1" height="25" fill="#5a5a5a"/>
<rect x="986.0" y="436" width="5" height="10" fill="#185a24"/>
<rect x="987.0" y="437" width="3" height="8" fill="#4caf50"/>
<rect x="995.0" y="420" width="1" height="13" fill="#5a5a5a"/>
<rect x="993.0" y="424" width="5" height="4" fill="#651010"/>
<rect x="994.0" y="425" width="3" height="2" fill="#e35a48"/>
<rect x="1003.0" y="423" width="1" height="30" fill="#5a5a5a"/>
<rect x="1001.0" y="425" width="5" height="20" fill="#651010"/>
<rect x="1002.0" y="426" width="3" height="18" fill="#e35a48"/>
<rect x="1010.0" y="443" width="1" height="23" fill="#5a5a5a"/>
<rect x="1008.0" y="443" width="5" height="16" fill="#651010"/>
<rect x="1009.0" y="444" width="3" height="14" fill="#e35a48"/>
<rect x="1017.0" y="426" width="1" height="29" fill="#5a5a5a"/>
<rect x="1015.0" y="427" width="5" height="24" fill="#185a24"/>
<rect x="1016.0" y="428" width="3" height="22" fill="#4caf50"/>
<rect x="1024.0" y="407" width="1" height="14" fill="#5a5a5a"/>
<rect x="1022.0" y="416" width="5" height="4" fill="#651010"/>
<rect x="1023.0" y="417" width="3" height="2" fill="#e35a48"/>
<rect x="1032.0" y="406" width="1" height="26" fill="#5a5a5a"/>
<rect x="1030.0" y="407" width="5" height="13" fill="#651010"/>
<rect x="1031.0" y="408" width="3" height="11" fill="#e35a48"/>
<rect x="1039.0" y="363" width="1" height="37" fill="#5a5a5a"/>
<rect x="1037.0" y="363" width="5" height="32" fill="#651010"/>
<rect x="1038.0" y="364" width="3" height="30" fill="#e35a48"/>
<rect x="1046.0" y="375" width="1" height="30" fill="#5a5a5a"/>
<rect x="1044.0" y="394" width="5" height="4" fill="#185a24"/>
<rect x="1045.0" y="395" width="3" height="2" fill="#4caf50"/>
<rect x="1053.0" y="385" width="1" height="11" fill="#5a5a5a"/>
<rect x="1051.0" y="386" width="5" height="9" fill="#651010"/>
<rect x="1052.0" y="387" width="3" height="7" fill="#e35a48"/>
<rect x="1061.0" y="365" width="1" height="23" fill="#5a5a5a"/>
<rect x="1059.0" y="377" width="5" height="6" fill="#185a24"/>
<rect x="1060.0" y="378" width="3" height="4" fill="#4caf50"/>
<rect x="1068.0" y="371" width="1" height="14" fill="#5a5a5a"/>
<rect x="1066.0" y="381" width="5" height="3" fill="#185a24"/>
<rect x="1067.0" y="382" width="3" height="1" fill="#4caf50"/>
<rect x="1075.0" y="329" width="1" height="54" fill="#5a5a5a"/>
<rect x="1073.0" y="371" width="5" height="12" fill="#185a24"/>
<rect x="1074.0" y="372" width="3" height="10" fill="#4caf50"/>
<rect x="1083.0" y="290" width="1" height="39" fill="#5a5a5a"/>
<rect x="1081.0" y="297" width="5" height="32" fill="#185a24"/>
<rect x="1082.0" y="298" width="3" height="30" fill="#4caf50"/>
<rect x="1090.0" y="299" width="1" height="25" fill="#5a5a5a"/>
<rect x="1088.0" y="308" width="5" height="10" fill="#185a24"/>
<rect x="1089.0" y="309" width="3" height="8" fill="#4caf50"/>
<rect x="1097.0" y="279" width="1" height="45" fill="#5a5a5a"/>
<rect x="1095.0" y="290" width="5" height="28" fill="#185a24"/>
<rect x="1096.0" y="291" width="3" height="26" fill="#4caf50"/>
<rect x="1104.0" y="275" width="1" height="21" fill="#5a5a5a"/>
<rect x="1102.0" y="275" width="5" height="19" fill="#651010"/>
<rect x="1103.0" y="276" width="3" height="17" fill="#e35a48"/>
<rect x="1112.0" y="264" width="1" height="30" fill="#5a5a5a"/>
<rect x="1110.0" y="280" width="5" height="9" fill="#185a24"/>
<rect x="1111.0" y="281" width="3" height="7" fill="#4caf50"/>
<rect x="1119.0" y="275" width="1" height="32" fill="#5a5a5a"/>
<rect x="1117.0" y="286" width="5" height="7" fill="#651010"/>
<rect x="1118.0" y="287" width="3" height="5" fill="#e35a48"/>
<rect x="1126.0" y="285" width="1" height="46" fill="#5a5a5a"/>
<rect x="1124.0" y="285" width="5" height="36" fill="#651010"/>
<rect x="1125.0" y="286" width="3" height="34" fill="#e35a48"/>
<rect x="1133.0" y="259" width="1" height="44" fill="#5a5a5a"/>
<rect x="1131.0" y="269" width="5" height="34" fill="#185a24"/>
<rect x="1132.0" y="270" width="3" height="32" fill="#4caf50"/>
<rect x="1141.0" y="264" width="1" height="18" fill="#5a5a5a"/>
<rect x="1139.0" y="275" width="5" height="3" fill="#185a24"/>
<rect x="1140.0" y="276" width="3" height="1" fill="#4caf50"/>
<rect x="1148.0" y="265" width="1" height="22" fill="#5a5a5a"/>
<rect x="1146.0" y="276" width="5" height="10" fill="#185a24"/>
<rect x="1147.0" y="277" width="3" height="8" fill="#4caf50"/>
<rect x="1155.0" y="223" width="1" height="54" fill="#5a5a5a"/>
<rect x="1153.0" y="264" width="5" height="9" fill="#185a24"/>
<rect x="1154.0" y="265" width="3" height="7" fill="#4caf50"/>
<rect x="1163.0" y="235" width="1" height="42" fill="#5a5a5a"/>
<rect x="1161.0" y="239" width="5" height="26" fill="#651010"/>
<rect x="1162.0" y="240" width="3" height="24" fill="#e35a48"/>
<rect x="1168.0" y="231" width="5" height="1.0" fill="#185a24"/>
<rect x="1177.0" y="281" width="1" height="13" fill="#5a5a5a"/>
<rect x="1175.0" y="283" width="5" height="9" fill="#651010"/>
<rect x="1176.0" y="284" width="3" height="7" fill="#e35a48"/>
<rect x="1184.0" y="262" width="1" height="20" fill="#5a5a5a"/>
<rect x="1182.0" y="274" width="5" height="7" fill="#185a24"/>
<rect x="1183.0" y="275" width="3" height="5" fill="#4caf50"/>
<rect x="1192.0" y="249" width="1" height="35" fill="#5a5a5a"/>
<rect x="1190.0" y="263" width="5" height="21" fill="#185a24"/>
<rect x="1191.0" y="264" width="3" height="19" fill="#4caf50"/>
<rect x="1197.0" y="260" width="5" height="1.0" fill="#185a24"/>
<rect x="1204.0" y="263" width="5" height="1.0" fill="#185a24"/>
<rect x="1213.0" y="280" width="1" height="24" fill="#5a5a5a"/>
<rect x="1211.0" y="290" width="5" height="5" fill="#185a24"/>
<rect x="1212.0" y="291" width="3" height="3" fill="#4caf50"/>
<rect x="1221.0" y="269" width="1" height="36" fill="#5a5a5a"/>
<rect x="1219.0" y="285" width="5" height="20" fill="#185a24"/>
<rect x="1220.0" y="286" width="3" height="18" fill="#4caf50"/>
<rect x="1228.0" y="239" width="1" height="27" fill="#5a5a5a"/>
<rect x="1226.0" y="246" width="5" height="8" fill="#185a24"/>
<rect x="1227.0" y="247" width="3" height="6" fill="#4caf50"/>
<rect x="1235.0" y="245" width="1" height="14" fill="#5a5a5a"/>
<rect x="1233.0" y="250" width="5" height="6" fill="#651010"/>
<rect x="1234.0" y="251" width="3" height="4" fill="#e35a48"/>
<rect x="1243.0" y="214" width="1" height="38" fill="#5a5a5a"/>
<rect x="1241.0" y="226" width="5" height="26" fill="#185a24"/>
<rect x="1242.0" y="227" width="3" height="24" fill="#4caf50"/>
<rect x="1250.0" y="185" width="1" height="30" fill="#5a5a5a"/>
<rect x="1248.0" y="204" width="5" height="11" fill="#185a24"/>
<rect x="1249.0" y="205" width="3" height="9" fill="#4caf50"/>
<rect x="1257.0" y="195" width="1" height="20" fill="#5a5a5a"/>
<rect x="1255.0" y="200" width="5" height="13" fill="#651010"/>
<rect x="1256.0" y="201" width="3" height="11" fill="#e35a48"/>
<rect x="1264.0" y="225" width="1" height="20" fill="#5a5a5a"/>
<rect x="1262.0" y="225" width="5" height="11" fill="#651010"/>
<rect x="1263.0" y="226" width="3" height="9" fill="#e35a48"/>
<rect x="1272.0" y="199" width="1" height="31" fill="#5a5a5a"/>
<rect x="1270.0" y="207" width="5" height="14" fill="#185a24"/>
<rect x="1271.0" y="208" width="3" height="12" fill="#4caf50"/>
<rect x="1279.0" y="167" width="1" height="29" fill="#5a5a5a"/>
<rect x="1277.0" y="183" width="5" height="12" fill="#185a24"/>
<rect x="1278.0" y="184" width="3" height="10" fill="#4caf50"/>
<rect x="1286.0" y="169" width="1" height="22" fill="#5a5a5a"/>
<rect x="1284.0" y="181" width="5" height="3" fill="#651010"/>
<rect x="1285.0" y="182" width="3" height="1" fill="#e35a48"/>
<rect x="1293.0" y="152" width="1" height="29" fill="#5a5a5a"/>
<rect x="1291.0" y="157" width="5" height="24" fill="#185a24"/>
<rect x="1292.0" y="158" width="3" height="22" fill="#4caf50"/>
<rect x="1301.0" y="131" width="1" height="38" fill="#5a5a5a"/>
<rect x="1299.0" y="163" width="5" height="6" fill="#185a24"/>
<rect x="1300.0" y="164" width="3" height="4" fill="#4caf50"/>
<rect x="1308.0" y="142" width="1" height="21" fill="#5a5a5a"/>
<rect x="1306.0" y="157" width="5" height="4" fill="#185a24"/>
<rect x="1307.0" y="158" width="3" height="2" fill="#4caf50"/>
<rect x="1315.0" y="132" width="1" height="22" fill="#5a5a5a"/>
<rect x="1313.0" y="134" width="5" height="20" fill="#185a24"/>
<rect x="1314.0" y="135" width="3" height="18" fill="#4caf50"/>
<rect x="1323.0" y="102" width="1" height="37" fill="#5a5a5a"/>
<rect x="1321.0" y="123" width="5" height="16" fill="#185a24"/>
<rect x="1322.0" y="124" width="3" height="14" fill="#4caf50"/>
<rect x="1330.0" y="62" width="1" height="36" fill="#5a5a5a"/>
<rect x="1328.0" y="73" width="5" height="25" fill="#185a24"/>
<rect x="1329.0" y="74" width="3" height="23" fill="#4caf50"/>
<rect x="1337.0" y="53" width="1" height="55" fill="#5a5a5a"/>
<rect x="1335.0" y="57" width="5" height="50" fill="#651010"/>
<rect x="1336.0" y="58" width="3" height="48" fill="#e35a48"/>
<rect x="1344.0" y="68" width="1" height="36" fill="#5a5a5a"/>
<rect x="1342.0" y="84" width="5" height="20" fill="#185a24"/>
<rect x="1343.0" y="85" width="3" height="18" fill="#4caf50"/>
<rect x="1352.0" y="79" width="1" height="26" fill="#5a5a5a"/>
<rect x="1350.0" y="84" width="5" height="11" fill="#651010"/>
<rect x="1351.0" y="85" width="3" height="9" fill="#e35a48"/>
<rect x="1359.0" y="103" width="1" height="54" fill="#5a5a5a"/>
<rect x="1357.0" y="111" width="5" height="40" fill="#651010"/>
<rect x="1358.0" y="112" width="3" height="38" fill="#e35a48"/>
<rect x="1366.0" y="140" width="1" height="35" fill="#5a5a5a"/>
<rect x="1364.0" y="149" width="5" height="23" fill="#185a24"/>
<rect x="1365.0" y="150" width="3" height="21" fill="#4caf50"/>
<rect x="1373.0" y="160" width="1" height="47" fill="#5a5a5a"/>
<rect x="1371.0" y="160" width="5" height="42" fill="#651010"/>
<rect x="1372.0" y="161" width="3" height="40" fill="#e35a48"/>
<rect x="1381.0" y="176" width="1" height="30" fill="#5a5a5a"/>
<rect x="1379.0" y="196" width="5" height="10" fill="#185a24"/>
<rect x="1380.0" y="197" width="3" height="8" fill="#4caf50"/>
<rect x="1388.0" y="120" width="1" height="30" fill="#5a5a5a"/>
<rect x="1386.0" y="128" width="5" height="21" fill="#185a24"/>
<rect x="1387.0" y="129" width="3" height="19" fill="#4caf50"/>
<rect x="1395.0" y="132" width="1" height="25" fill="#5a5a5a"/>
<rect x="1393.0" y="132" width="5" height="11" fill="#651010"/>
<rect x="1394.0" y="133" width="3" height="9" fill="#e35a48"/>
<rect x="1402.0" y="160" width="1" height="45" fill="#5a5a5a"/>
<rect x="1400.0" y="160" width="5" height="12" fill="#651010"/>
<rect x="1401.0" y="161" width="3" height="10" fill="#e35a48"/>
<rect x="1410.0" y="175" width="1" height="25" fill="#5a5a5a"/>
<rect x="1408.0" y="190" width="5" height="5" fill="#185a24"/>
<rect x="1409.0" y="191" width="3" height="3" fill="#4caf50"/>
<rect x="1417.0" y="205" width="1" height="53" fill="#5a5a5a"/>
<rect x="1415.0" y="221" width="5" height="5" fill="#651010"/>
<rect x="1416.0" y="222" width="3" height="3" fill="#e35a48"/>
<rect x="1424.0" y="223" width="1" height="17" fill="#5a5a5a"/>
<rect x="1422.0" y="223" width="5" height="10" fill="#185a24"/>
<rect x="1423.0" y="224" width="3" height="8" fill="#4caf50"/>
<line x1="3" y1="223.5" x2="1460" y2="223.5" stroke="#4caf50" stroke-width="1" stroke-dasharray="1 2"/>
</g>
<rect x="1460" y="4" width="1" height="829" fill="#555"/>
<rect x="3" y="805" width="1519" height="1" fill="#44464b"/>
<g clip-path="url(#cpAxisMain)">
<text x="1468" y="112.7" font-size="12" fill="#42454d" font-weight="normal" text-anchor="start" textLength="36.5" lengthAdjust="spacingAndGlyphs" >1.050%</text>
<text x="1468" y="162.9" font-size="12" fill="#42454d" font-weight="normal" text-anchor="start" textLength="36.5" lengthAdjust="spacingAndGlyphs" >1.000%</text>
<text x="1468" y="213.7" font-size="12" fill="#42454d" font-weight="normal" text-anchor="start" textLength="36.5" lengthAdjust="spacingAndGlyphs" >0.950%</text>
<text x="1468" y="264.6" font-size="12" fill="#42454d" font-weight="normal" text-anchor="start" textLength="36.5" lengthAdjust="spacingAndGlyphs" >0.900%</text>
<text x="1468" y="315.6" font-size="12" fill="#42454d" font-weight="normal" text-anchor="start" textLength="36.5" lengthAdjust="spacingAndGlyphs" >0.850%</text>
<text x="1468" y="366.3" font-size="12" fill="#42454d" font-weight="normal" text-anchor="start" textLength="36.5" lengthAdjust="spacingAndGlyphs" >0.800%</text>
<text x="1468" y="416.9" font-size="12" fill="#42454d" font-weight="normal" text-anchor="start" textLength="36.5" lengthAdjust="spacingAndGlyphs" >0.750%</text>
<text x="1468" y="467.7" font-size="12" fill="#42454d" font-weight="normal" text-anchor="start" textLength="36.5" lengthAdjust="spacingAndGlyphs" >0.700%</text>
<text x="1468" y="518.6" font-size="12" fill="#42454d" font-weight="normal" text-anchor="start" textLength="36.5" lengthAdjust="spacingAndGlyphs" >0.650%</text>
<text x="1468" y="569.5" font-size="12" fill="#42454d" font-weight="normal" text-anchor="start" textLength="36.5" lengthAdjust="spacingAndGlyphs" >0.600%</text>
<text x="1468" y="619.9" font-size="12" fill="#42454d" font-weight="normal" text-anchor="start" textLength="36.5" lengthAdjust="spacingAndGlyphs" >0.550%</text>
<text x="1468" y="670.8" font-size="12" fill="#42454d" font-weight="normal" text-anchor="start" textLength="36.5" lengthAdjust="spacingAndGlyphs" >0.500%</text>
</g>
<text x="1468" y="678" font-size="12" fill="#42454d" font-weight="normal" text-anchor="start" textLength="36.5" lengthAdjust="spacingAndGlyphs" >0.050%</text>
<text x="1468" y="731" font-size="12" fill="#42454d" font-weight="normal" text-anchor="start" textLength="36.5" lengthAdjust="spacingAndGlyphs" >200.00</text>
<text x="1468" y="765" font-size="12" fill="#42454d" font-weight="normal" text-anchor="start" textLength="23" lengthAdjust="spacingAndGlyphs" >0.00</text>
<text x="1468" y="798.6" font-size="12" fill="#42454d" font-weight="normal" text-anchor="start" textLength="42.3" lengthAdjust="spacingAndGlyphs" >−200.00</text>
<path d="M1460,45.0 h48 a2,2 0 0 1 2,2 v13 a2,2 0 0 1 -2,2 h-48 z" fill="#000"/>
<text x="1467.8" y="57.9" font-size="12" fill="#fff" font-weight="bold" text-anchor="start" textLength="37" lengthAdjust="spacingAndGlyphs" >1.104%</text>
<path d="M1460,171.0 h48 a2,2 0 0 1 2,2 v13 a2,2 0 0 1 -2,2 h-48 z" fill="#000"/>
<text x="1467.8" y="183.9" font-size="12" fill="#fff" font-weight="bold" text-anchor="start" textLength="37" lengthAdjust="spacingAndGlyphs" >0.979%</text>
<path d="M1460,562.0 h48 a2,2 0 0 1 2,2 v13 a2,2 0 0 1 -2,2 h-48 z" fill="#000"/>
<text x="1467.8" y="574.9" font-size="12" fill="#fff" font-weight="bold" text-anchor="start" textLength="37" lengthAdjust="spacingAndGlyphs" >0.595%</text>
<rect x="1464.5" y="8.5" width="53" height="25" rx="4" ry="4" fill="#fff" stroke="#e0e3eb" stroke-width="1"/>
<text x="1468" y="25" font-size="10.5" fill="#2a2e39" font-weight="normal" text-anchor="start" textLength="7.5" lengthAdjust="spacingAndGlyphs" >%</text>
<text x="79" y="823.3" font-size="12" fill="#42454d" font-weight="normal" text-anchor="middle" >Oct</text>
<text x="238.5" y="823.3" font-size="12" fill="#42454d" font-weight="normal" text-anchor="middle" >Nov</text>
<text x="398.5" y="823.3" font-size="12" fill="#42454d" font-weight="normal" text-anchor="middle" >Dec</text>
<text x="552" y="823.3" font-size="12" fill="#42454d" font-weight="bold" text-anchor="middle" >2024</text>
<text x="718.5" y="823.3" font-size="12" fill="#42454d" font-weight="normal" text-anchor="middle" >Feb</text>
<text x="871.5" y="823.3" font-size="12" fill="#42454d" font-weight="normal" text-anchor="middle" >Mar</text>
<text x="1023.5" y="823.3" font-size="12" fill="#42454d" font-weight="normal" text-anchor="middle" >Apr</text>
<text x="1183.5" y="823.3" font-size="12" fill="#42454d" font-weight="normal" text-anchor="middle" >May</text>
<text x="1351.5" y="823.3" font-size="12" fill="#42454d" font-weight="normal" text-anchor="middle" >Jun</text>
<g clip-path="url(#cpT)"><text x="1455" y="823.3" font-size="12" fill="#42454d" font-weight="normal" text-anchor="start" >24</text></g>
<polygon points="1484.0,819.4 1487.5,813.2 1495.3,813.2 1498.8,819.4 1495.3,825.6 1487.5,825.6" fill="none" stroke="#2a2e39" stroke-width="1.0" stroke-linejoin="round"/>
<circle cx="1491.4" cy="819.4" r="1.9" fill="none" stroke="#2a2e39" stroke-width="1.0"/>
<rect x="8" y="9" width="727" height="22" fill="#fff" fill-opacity="0.55"/>
<rect x="8" y="35" width="152" height="26" fill="#fff" fill-opacity="0.55"/>
<rect x="8" y="65" width="545" height="24" fill="#fff" fill-opacity="0.55"/>
<rect x="8" y="680" width="123" height="17" fill="#fff" fill-opacity="0.55"/>
<rect x="8" y="717" width="163" height="21" fill="#fff" fill-opacity="0.55"/>
<circle cx="20.8" cy="19.9" r="9" fill="#f0f3fa"/>
<circle cx="20.8" cy="19.9" r="4.1" fill="#f5505f"/>
<g aria-label="Japan Government Bonds 10 YR Yield · 1D · TVC">
<text x="34.4" y="26.3" font-size="16" fill="#474a52" font-weight="normal" text-anchor="start" textLength="41.1" lengthAdjust="spacingAndGlyphs" >Japan</text>
<text x="81.4" y="26.3" font-size="16" fill="#474a52" font-weight="normal" text-anchor="start" textLength="86.1" lengthAdjust="spacingAndGlyphs" >Government</text>
<text x="174.4" y="26.3" font-size="16" fill="#474a52" font-weight="normal" text-anchor="start" textLength="40.7" lengthAdjust="spacingAndGlyphs" >Bonds</text>
<text x="221.8" y="26.3" font-size="16" fill="#474a52" font-weight="normal" text-anchor="start" textLength="14.7" lengthAdjust="spacingAndGlyphs" >10</text>
<text x="242" y="26.3" font-size="16" fill="#474a52" font-weight="normal" text-anchor="start" textLength="17.9" lengthAdjust="spacingAndGlyphs" >YR</text>
<text x="265" y="26.3" font-size="16" fill="#474a52" font-weight="normal" text-anchor="start" textLength="33.6" lengthAdjust="spacingAndGlyphs" >Yield</text>
<text x="313.7" y="26.3" font-size="16" fill="#474a52" font-weight="normal" text-anchor="start" textLength="15.2" lengthAdjust="spacingAndGlyphs" >1D</text>
<text x="342.2" y="26.3" font-size="16" fill="#474a52" font-weight="normal" text-anchor="start" textLength="27.4" lengthAdjust="spacingAndGlyphs" >TVC</text>
<text x="305.9" y="26.3" font-size="16" fill="#474a52" font-weight="bold" text-anchor="middle" >·</text>
<text x="335.8" y="26.3" font-size="16" fill="#474a52" font-weight="bold" text-anchor="middle" >·</text>
</g>
<circle cx="393.8" cy="20" r="9" fill="#d4ede8"/>
<circle cx="393.8" cy="20" r="4" fill="#0b9981"/>
<text x="419.2" y="24.8" font-size="13" textLength="49.5" lengthAdjust="spacingAndGlyphs"><tspan fill="#5d6069">O</tspan><tspan fill="#2f6b55">0.927%</tspan></text>
<text x="475" y="24.8" font-size="13" textLength="49.2" lengthAdjust="spacingAndGlyphs"><tspan fill="#5d6069">H</tspan><tspan fill="#2f6b55">0.936%</tspan></text>
<text x="530.5" y="24.8" font-size="13" textLength="47.0" lengthAdjust="spacingAndGlyphs"><tspan fill="#5d6069">L</tspan><tspan fill="#2f6b55">0.920%</tspan></text>
<text x="583.7" y="24.8" font-size="13" textLength="48.0" lengthAdjust="spacingAndGlyphs"><tspan fill="#5d6069">C</tspan><tspan fill="#2f6b55">0.936%</tspan></text>
<text x="638.7" y="24.8" font-size="13" textLength="37.5" lengthAdjust="spacingAndGlyphs"><tspan fill="#2f6b55">+0.002</tspan></text>
<text x="682.5" y="24.8" font-size="13" textLength="47.5" lengthAdjust="spacingAndGlyphs"><tspan fill="#2f6b55">(+0.21%)</tspan></text>
<rect x="11.5" y="36.5" width="47" height="23" rx="4" ry="4" fill="#fff" stroke="#f23645" stroke-width="1"/>
<text x="19.3" y="53.3" font-size="13" fill="#f23645" font-weight="normal" text-anchor="start" textLength="31.2" lengthAdjust="spacingAndGlyphs" >0.929</text>
<text x="68.2" y="53.5" font-size="12" fill="#2f323b" font-weight="normal" text-anchor="start" textLength="32.6" lengthAdjust="spacingAndGlyphs" >−0.010</text>
<rect x="108.5" y="36.5" width="47" height="23" rx="4" ry="4" fill="#fff" stroke="#2962ff" stroke-width="1"/>
<text x="116.2" y="53.3" font-size="13" fill="#2962ff" font-weight="normal" text-anchor="start" textLength="31.2" lengthAdjust="spacingAndGlyphs" >0.919</text>
<text x="12" y="80" font-size="12" fill="#4d5059" font-weight="normal" text-anchor="start" textLength="383" lengthAdjust="spacingAndGlyphs" >MA Ribbon SMA close 20 SMA close 50 SMA close 100 SMA close 200</text>
<text x="403.9" y="80" font-size="12" fill="#f23645" font-weight="normal" text-anchor="start" textLength="38.9" lengthAdjust="spacingAndGlyphs" >1.006%</text>
<text x="449.4" y="80" font-size="12" fill="#2962ff" font-weight="normal" text-anchor="start" textLength="39.2" lengthAdjust="spacingAndGlyphs" >0.936%</text>
<text x="495.2" y="80" font-size="11.5" fill="#42454d" font-weight="normal" text-anchor="start" textLength="7.6" lengthAdjust="spacingAndGlyphs" >∅</text>
<text x="508.9" y="80" font-size="12" fill="#23262e" font-weight="normal" text-anchor="start" textLength="39.6" lengthAdjust="spacingAndGlyphs" >0.781%</text>
<rect x="12.5" y="90.5" width="28" height="20" rx="3.5" ry="3.5" fill="#fff" stroke="#d3d7e2" stroke-width="1"/>
<path d="M22.6,102.3 L26.5,98.7 L30.4,102.3" fill="none" stroke="#1e222d" stroke-width="1.3" stroke-linecap="round" stroke-linejoin="round"/>
<text x="12.1" y="690" font-size="12" fill="#4d5059" font-weight="normal" text-anchor="start" textLength="67" lengthAdjust="spacingAndGlyphs" >ATR 14 RMA</text>
<text x="87.5" y="690" font-size="12" fill="#b22833" font-weight="normal" text-anchor="start" textLength="39.5" lengthAdjust="spacingAndGlyphs" >0.040%</text>
<text x="12" y="732" font-size="12" fill="#4d5059" font-weight="normal" text-anchor="start" textLength="101" lengthAdjust="spacingAndGlyphs" >CCI 20 hlc3 SMA 5</text>
<text x="122.5" y="732" font-size="12" fill="#2962ff" font-weight="normal" text-anchor="start" textLength="44.5" lengthAdjust="spacingAndGlyphs" >−148.38</text>
<path d="M15,776 H27 V791 H21 V782 H15 Z M38.1,776 H45 L39,791 H32 Z" fill="#fff" stroke="#fff" stroke-width="3.5" stroke-linejoin="round"/>
<circle cx="32" cy="779" r="4.6" fill="#fff"/>
<path d="M15,776 H27 V791 H21 V782 H15 Z M38.1,776 H45 L39,791 H32 Z" fill="#131722"/>
<circle cx="32" cy="779" r="3" fill="#131722"/>
<rect x="1522" y="0" width="2" height="835" fill="#e0e3eb"/>
<rect x="0" y="833" width="1524" height="2" fill="#e0e3eb"/>
<rect x="3" y="834.5" width="1519" height="0.5" fill="#f4f5f9"/>
</svg></body></html>
